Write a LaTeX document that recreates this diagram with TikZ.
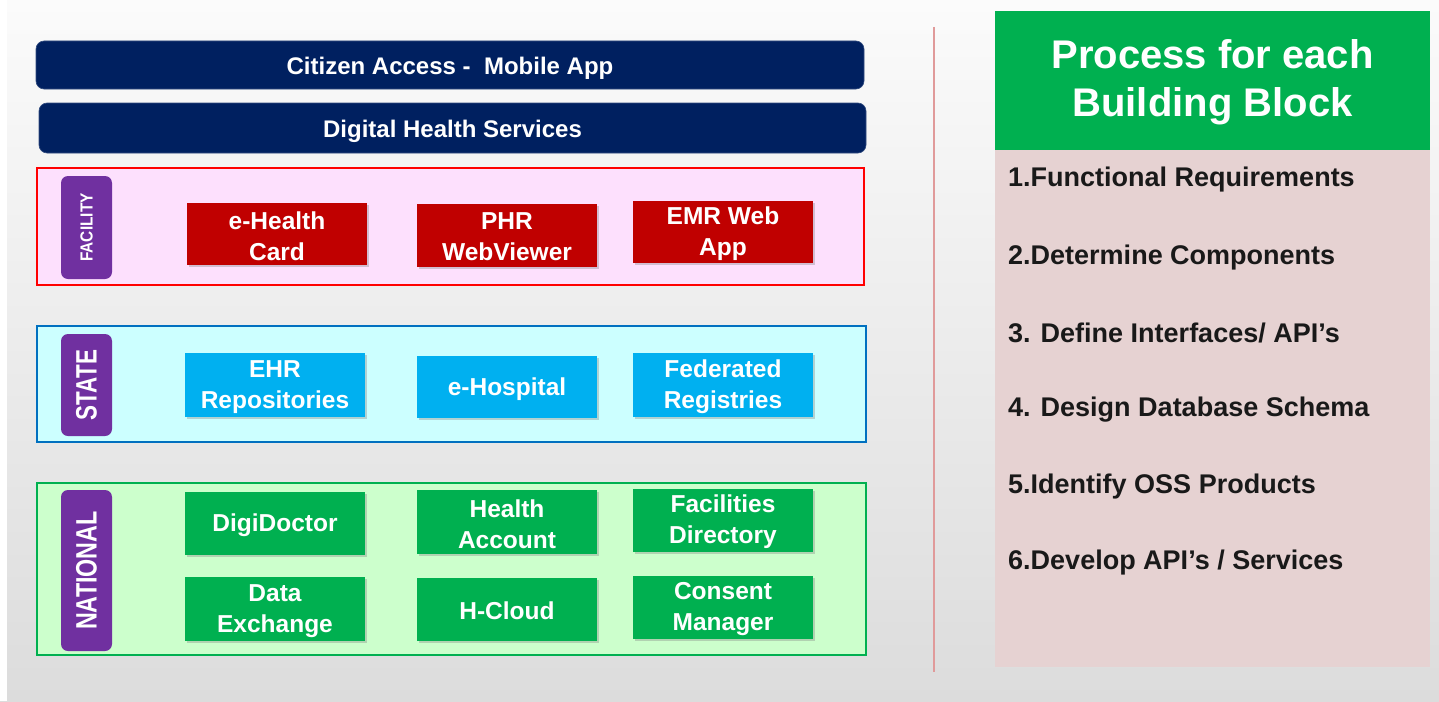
\documentclass[tikz,border=0pt]{standalone}
\usepackage{fontspec}
\setmainfont{Liberation Sans}
\usetikzlibrary{shadows}
\definecolor{navy}{HTML}{002060}
\definecolor{blkred}{HTML}{C00000}
\definecolor{blkblue}{HTML}{00B0F0}
\definecolor{blkgreen}{HTML}{00B050}
\definecolor{tagpurple}{HTML}{7030A0}
\definecolor{facfill}{HTML}{FDE0FD}
\definecolor{statefill}{HTML}{CCFFFF}
\definecolor{natfill}{HTML}{CCFFCC}
\definecolor{stateline}{HTML}{0070C0}
\definecolor{bodypink}{HTML}{E6D2D2}
\definecolor{divline}{HTML}{E09A9A}
\definecolor{bgtop}{HTML}{FBFBFB}
\definecolor{bgbot}{HTML}{DCDCDC}
\tikzset{
  bar/.style={draw=navy!80!white, line width=0.6pt, fill=navy, rounded corners=8pt, text=white,
    font=\fontsize{24}{28}\selectfont\bfseries, inner sep=0pt},
  bartext/.style={text=white, font=\fontsize{24}{28}\selectfont\bfseries, inner sep=0pt, yshift=-3pt},
  layer/.style={line width=2.2pt, inner sep=0pt},
  tag/.style={fill=tagpurple, rounded corners=7pt, inner sep=0pt, minimum width=51pt},
  tagtext/.style={text=white, rotate=90, font=\bfseries},
  blk/.style={minimum width=180pt, inner sep=0pt, text=white,
    drop shadow={opacity=0.35, shadow xshift=1.5pt, shadow yshift=-2pt}},
  blktext/.style={inner sep=0pt, text=white, align=center,
    font=\fontsize{24.5}{31}\selectfont\bfseries, yshift=-2pt},
  item/.style={anchor=west, inner sep=0pt, font=\fontsize{27}{32}\selectfont\bfseries, text=black!90, yshift=-2pt}
}
\begin{document}
\begin{tikzpicture}[x=1pt, y=-1pt]
\useasboundingbox (0,0) rectangle (1439,701);
\shade[top color=bgtop, bottom color=bgbot] (0,0) rectangle (1439,701);
\fill[white] (0,0) rectangle (7,701);

% top bars
\node[bar, minimum width=828pt, minimum height=48pt] (citizen) at (450,65) {};
\node[bartext] (citizent) at (citizen.center) {Citizen Access -\ \ Mobile App};
\node[bar, minimum width=827pt, minimum height=50pt] (dhs) at (452.5,128) {};
\node[bartext] (dhst) at (dhs.center) {Digital Health Services};

% layers
\node[layer, draw=red, fill=facfill, minimum width=827pt, minimum height=117pt] (facility) at (450.5,226.5) {};
\node[layer, draw=stateline, fill=statefill, minimum width=829pt, minimum height=116pt] (state) at (451.5,384) {};
\node[layer, draw=blkgreen, fill=natfill, minimum width=829pt, minimum height=172pt] (national) at (451.5,569) {};

% tags
\node[tag, minimum height=103pt] (tagfac) at (86.5,227.5) {};
\node[tagtext] (tagfact) at (tagfac.center) {\scalebox{0.88}[1]{\fontsize{17.5}{20}\selectfont FACILITY}};
\node[tag, minimum height=102pt] (tagstate) at (86.5,385) {};
\node[tagtext] (tagstatet) at (tagstate.center) {\scalebox{0.76}[1]{\fontsize{29.5}{32}\selectfont STATE}};
\node[tag, minimum height=161pt] (tagnat) at (86.5,570.5) {};
\node[tagtext] (tagnatt) at (tagnat.center) {\scalebox{0.79}[1]{\fontsize{29.5}{32}\selectfont NATIONAL}};

% facility blocks
\node[blk, fill=blkred, minimum height=62pt] (ehcard) at (277,234) {};
\node[blktext] at (ehcard.center) {e-Health\\Card};
\node[blk, fill=blkred, minimum height=63pt] (phr) at (507,235) {};
\node[blktext] at (phr.center) {PHR\\WebViewer};
\node[blk, fill=blkred, minimum height=62pt] (emr) at (723,232) {};
\node[blktext] at (emr.center) {EMR Web\\App};

% state blocks
\node[blk, fill=blkblue, minimum height=64pt] (ehr) at (275,385) {};
\node[blktext] at (ehr.center) {EHR\\Repositories};
\node[blk, fill=blkblue, minimum height=62pt] (ehosp) at (507,387) {};
\node[blktext] at (ehosp.center) {e-Hospital};
\node[blk, fill=blkblue, minimum height=64pt] (fedreg) at (723,385) {};
\node[blktext] at (fedreg.center) {Federated\\Registries};

% national blocks
\node[blk, fill=blkgreen, minimum height=63pt] (digidoc) at (275,523) {};
\node[blktext] at (digidoc.center) {DigiDoctor};
\node[blk, fill=blkgreen, minimum height=64pt] (hacc) at (507,522) {};
\node[blktext] at (hacc.center) {Health\\Account};
\node[blk, fill=blkgreen, minimum height=63pt] (facdir) at (723,520) {};
\node[blktext] at (facdir.center) {Facilities\\Directory};
\node[blk, fill=blkgreen, minimum height=64pt] (dataex) at (275,609) {};
\node[blktext] at (dataex.center) {Data\\Exchange};
\node[blk, fill=blkgreen, minimum height=63pt] (hcloud) at (507,609) {};
\node[blktext] at (hcloud.center) {H-Cloud};
\node[blk, fill=blkgreen, minimum height=63pt] (consent) at (723,607) {};
\node[blktext] at (consent.center) {Consent\\Manager};

% divider
\coordinate (divtop) at (934,27);
\coordinate (divbot) at (934,672);
\draw[divline, line width=2pt] (divtop) -- (divbot);

% right panel
\node[fill=bodypink, inner sep=0pt, minimum width=435pt, minimum height=517pt] (body) at (1212.5,408.5) {};
\node[fill=blkgreen, inner sep=0pt, minimum width=435pt, minimum height=139pt] (header) at (1212.5,80.5) {};
\node[inner sep=0pt, text=white, align=center, yshift=-2pt,
  font=\fontsize{40}{48}\selectfont\bfseries] (headert) at (header.center) {Process for each\\Building Block};

\node[item] (s1) at (1008,178) {1.Functional Requirements};
\node[item] (s2) at (1008,256) {2.Determine Components};
\node[item] (s3) at (1008,331) {3. Define Interfaces/ API’s};
\node[item] (s4) at (1008,408) {4. Design Database Schema};
\node[item] (s5) at (1008,485) {5.Identify OSS Products};
\node[item] (s6) at (1008,561) {6.Develop API’s / Services};
\end{tikzpicture}
\end{document}
